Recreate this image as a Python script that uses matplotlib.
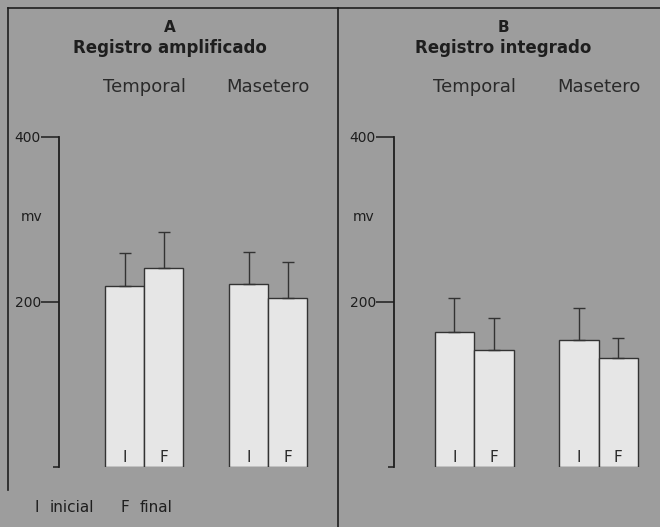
import matplotlib.pyplot as plt
from matplotlib.lines import Line2D
from matplotlib.transforms import blended_transform_factory

# values (mv), upward error bar length
muscles = ["Temporal", "Masetero"]
phases = ["I", "F"]
amp_values = [[220, 241], [222, 205]]
amp_errors = [[39, 44], [39, 43]]
int_values = [[164, 142], [154, 132]]
int_errors = [[41, 39], [39, 24]]
yticks = [200, 400]

W, H = 660, 527
BG = "#9d9d9d"
BAR = "#e6e6e6"
INK = "#1e1e1e"

plt.rcParams['font.family'] = ['DejaVu Sans']


def fx(x):
    return x / W


def fy(y):
    return 1 - y / H


fig = plt.figure(figsize=(W / 100, H / 100), dpi=100)
fig.patch.set_facecolor(BG)

# frame lines of the original plate
for (x1, y1, x2, y2) in [(8, 8, 660, 8), (8, 8, 8, 490), (338, 8, 338, 527)]:
    fig.add_artist(Line2D([fx(x1), fx(x2)], [fy(y1), fy(y2)], color=INK, lw=1.2))

y0_px, ytop_px = 467, 137
bottom = fy(y0_px)
height = (y0_px - ytop_px) / H

panels = [
    # letter, title, values, errors, axis x (px), px per bar unit, group centers, xmax, title x, mv x
    ("A", "Registro amplificado", amp_values, amp_errors, 59, 39.0, [2.19, 5.37], 7.0, 170, 32),
    ("B", "Registro integrado", int_values, int_errors, 394, 39.5, [2.03, 5.18], 6.6, 503, 364),
]

for letter, title, values, errors, left_px, ppu, centers, xmax, tx, mvx in panels:
    ax = fig.add_axes([fx(left_px), bottom, xmax * ppu / W, height])
    ax.set_facecolor("none")
    ax.set_xlim(0, xmax)
    ax.set_ylim(0, 400)
    for s in ["top", "right", "bottom"]:
        ax.spines[s].set_visible(False)
    ax.spines["left"].set_color(INK)
    ax.spines["left"].set_linewidth(1.3)
    ax.set_xticks([])
    ax.set_yticks(yticks)
    ax.set_yticklabels([str(t) for t in yticks], fontsize=10, color=INK)
    ax.set_yticks([0], minor=True)
    ax.tick_params(axis="y", which="major", length=13, width=1.1, color=INK, pad=0)
    ax.tick_params(axis="y", which="minor", length=4, width=1.1, color=INK)

    trans = blended_transform_factory(ax.transData, ax.transAxes)
    for gi, muscle in enumerate(muscles):
        xs = [centers[gi] - 0.5, centers[gi] + 0.5]
        ax.bar(xs, values[gi], width=1.0, color=BAR, edgecolor="#333333", linewidth=1.0, zorder=2)
        ax.errorbar(xs, values[gi], yerr=[[0, 0], errors[gi]], fmt="none",
                    ecolor="#333333", elinewidth=1.0, capsize=4, capthick=1.0, zorder=3)
        for x, ph in zip(xs, phases):
            ax.annotate(ph, (x, 0), xytext=(0, 7), textcoords="offset points",
                        ha="center", va="center", fontsize=11, color="#2a2a2a", zorder=4)
        ax.text(centers[gi], 1 + 50 / (y0_px - ytop_px), muscle, transform=trans,
                ha="center", va="center", fontsize=13, color="#2a2a2a")

    fig.text(fx(tx), fy(27), letter, ha="center", va="center", fontsize=11,
             fontweight="bold", color=INK)
    fig.text(fx(tx), fy(48), title, ha="center", va="center", fontsize=12,
             fontweight="bold", color=INK)
    fig.text(fx(mvx), fy(217), "mv", ha="center", va="center", fontsize=10, color=INK)

fig.text(fx(37), fy(507), "I", ha="center", va="center", fontsize=11, color=INK)
fig.text(fx(50), fy(507), "inicial", ha="left", va="center", fontsize=11, color=INK)
fig.text(fx(125), fy(507), "F", ha="center", va="center", fontsize=11, color=INK)
fig.text(fx(140), fy(507), "final", ha="left", va="center", fontsize=11, color=INK)

fig.savefig("out.png", dpi=100, facecolor=BG)
